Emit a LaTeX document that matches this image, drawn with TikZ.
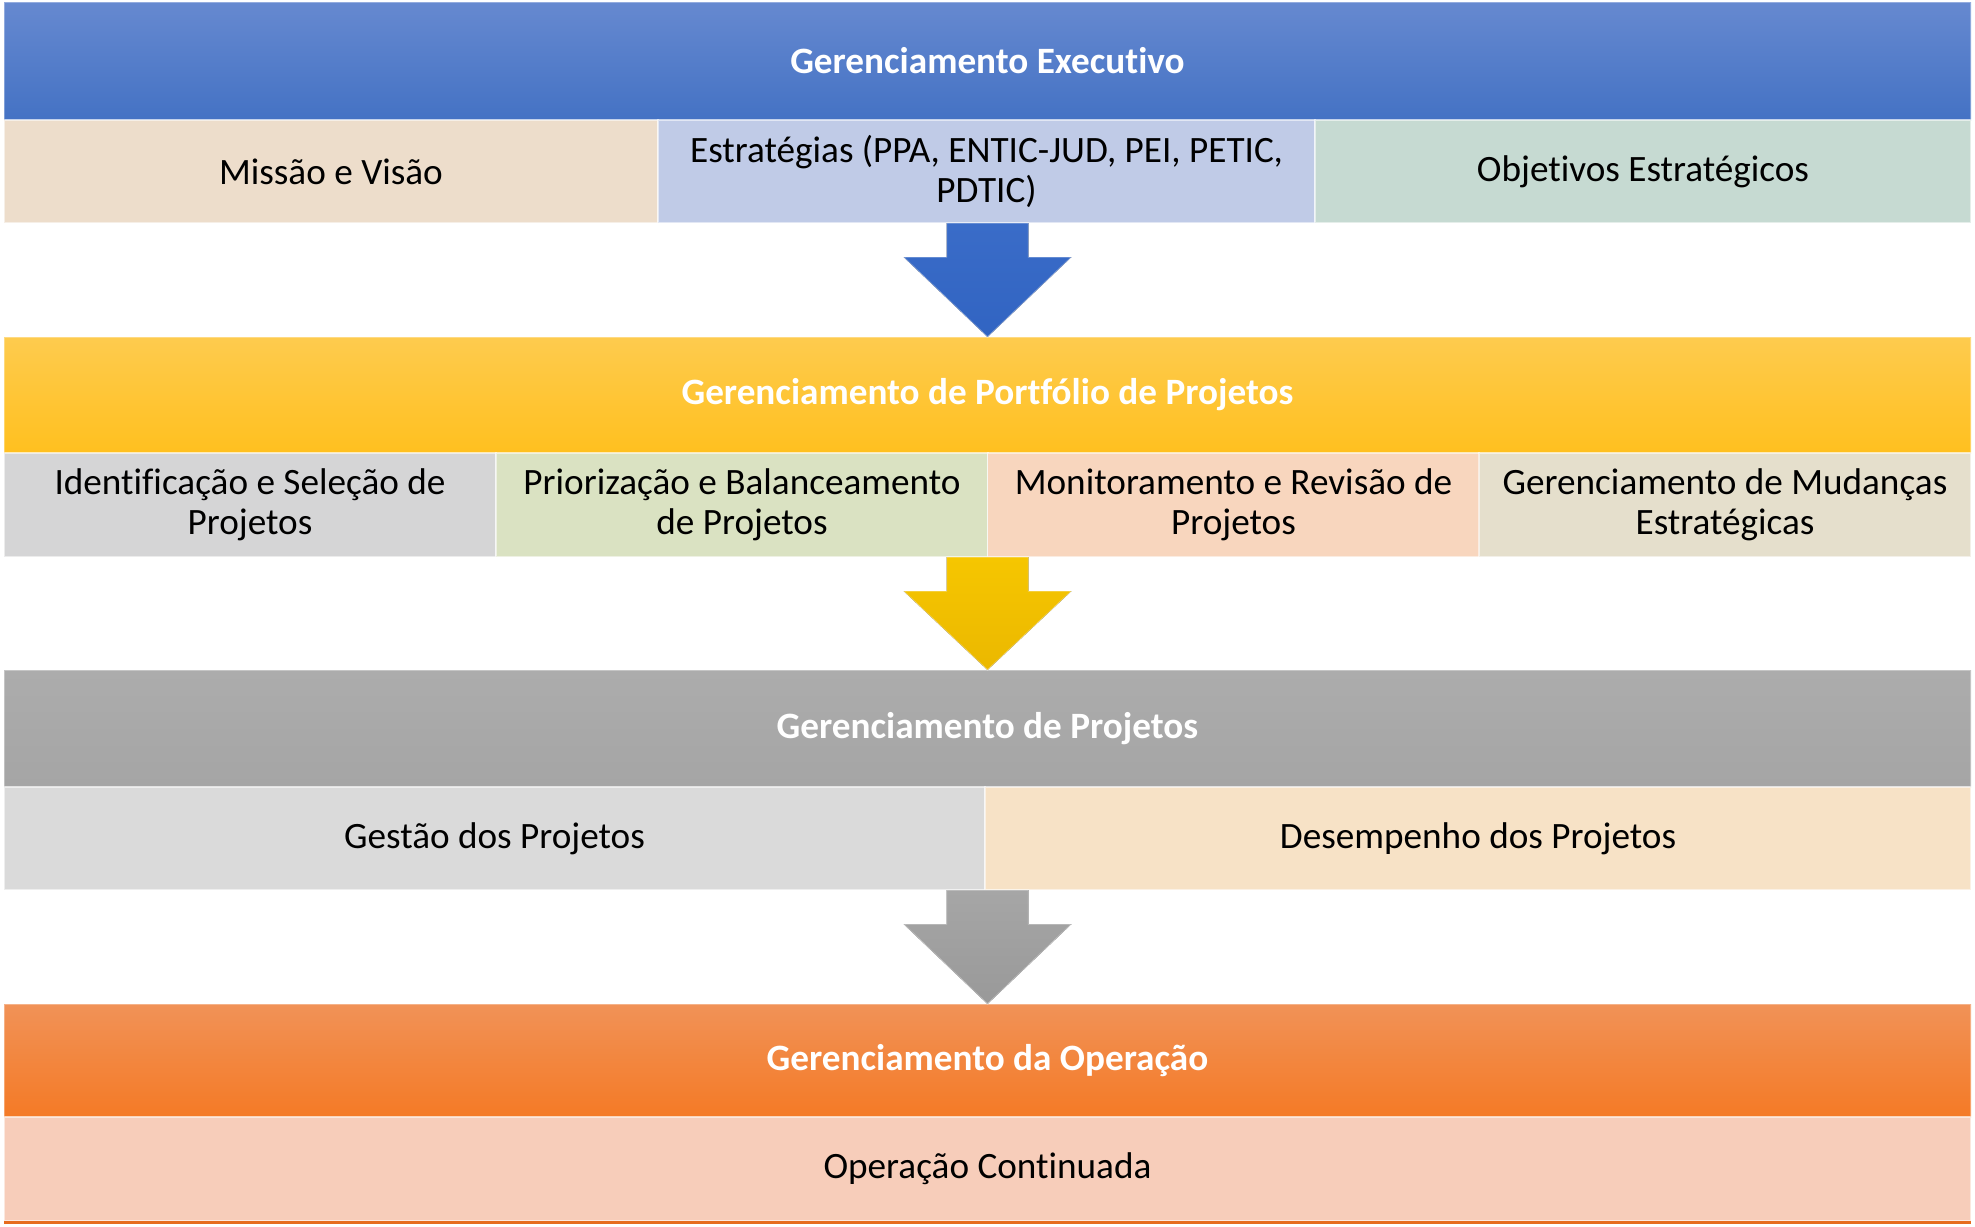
\documentclass[tikz,border=0pt]{standalone}
\usepackage{fontspec}
\setmainfont{Carlito}[Ligatures={NoCommon,NoContextual,NoRare}]
\usetikzlibrary{calc}
\definecolor{blueTop}{HTML}{6689D0}
\definecolor{blueBot}{HTML}{4472C4}
\definecolor{yelTop}{HTML}{FECB4E}
\definecolor{yelBot}{HTML}{FFC01F}
\definecolor{greyTop}{HTML}{ACACAC}
\definecolor{greyBot}{HTML}{A5A5A5}
\definecolor{orTop}{HTML}{F19257}
\definecolor{orBot}{HTML}{F47A26}
\definecolor{cMissao}{HTML}{EDDDCB}
\definecolor{cEstr}{HTML}{C0CBE7}
\definecolor{cObj}{HTML}{C6DAD2}
\definecolor{cIdent}{HTML}{D5D5D6}
\definecolor{cPrior}{HTML}{DAE2C2}
\definecolor{cMonit}{HTML}{F8D6BE}
\definecolor{cMud}{HTML}{E5DFCC}
\definecolor{cGest}{HTML}{DADADA}
\definecolor{cDesemp}{HTML}{F7E2C6}
\definecolor{cOper}{HTML}{F7CDBA}
\definecolor{orLine}{HTML}{E66C1E}
\definecolor{arBlueA}{HTML}{3A6CC8}
\definecolor{arBlueB}{HTML}{3164C2}
\definecolor{arYelA}{HTML}{F6C600}
\definecolor{arYelB}{HTML}{EBB800}
\definecolor{arGreyA}{HTML}{A6A6A6}
\definecolor{arGreyB}{HTML}{999999}
\newcommand{\myblockarrow}[4]{%
  \fill[top color=#3, bottom color=#4, draw=white, draw opacity=0.35, line width=0.6pt]
    let \p1=(#1), \p2=(#2) in
    (\x2-20.5pt,\y1) -- (\x2+20.5pt,\y1) -- (\x2+20.5pt,\y1-17pt) --
    (\x2+42pt,\y1-17pt) -- (\x2,\y2) -- (\x2-42pt,\y1-17pt) --
    (\x2-20.5pt,\y1-17pt) -- cycle;}
\tikzset{
  band/.style={minimum width=983.5pt, inner sep=0pt, outer sep=0pt,
    draw=white, draw opacity=0.3, line width=0.6pt,
    text=white, font=\fontsize{18.6}{20}\selectfont\bfseries},
  cell/.style={inner sep=0pt, outer sep=0pt, align=center,
    draw=white, draw opacity=0.55, line width=0.8pt,
    text=black, font=\fontsize{18.6}{20}\selectfont}
}
\begin{document}
\begin{tikzpicture}[x=0.5pt, y=-0.5pt]
\useasboundingbox (0,0) rectangle (1975,1226);
% level 1
\node[band, minimum height=59pt, top color=blueTop, bottom color=blueBot] (ge) at (987.5,61) {Gerenciamento Executivo};
\node[cell, fill=cMissao, minimum width=327pt, minimum height=51.5pt] (mv) at (331,171.5) {Missão e Visão};
\node[cell, fill=cEstr, minimum width=328.5pt, minimum height=51.5pt] (es) at (986.5,171.5) {Estratégias (PPA, ENTIC-JUD, PEI, PETIC,\\PDTIC)};
\node[cell, fill=cObj, minimum width=328pt, minimum height=51.5pt] (ob) at (1643,171.5) {Objetivos Estratégicos};
% level 2
\node[band, minimum height=58pt, top color=yelTop, bottom color=yelBot] (gp) at (987.5,395) {Gerenciamento de Portfólio de Projetos};
\node[cell, fill=cIdent, minimum width=246pt, minimum height=52pt] (is) at (250,505) {Identificação e Seleção de\\Projetos};
\node[cell, fill=cPrior, minimum width=246pt, minimum height=52pt] (pb) at (742,505) {Priorização e Balanceamento\\de Projetos};
\node[cell, fill=cMonit, minimum width=246pt, minimum height=52pt] (mr) at (1233.5,505) {Monitoramento e Revisão de\\Projetos};
\node[cell, fill=cMud, minimum width=246pt, minimum height=52pt] (gm) at (1725,505) {Gerenciamento de Mudanças\\Estratégicas};
% level 3
\node[band, minimum height=58.5pt, top color=greyTop, bottom color=greyBot] (gpr) at (987.5,728.5) {Gerenciamento de Projetos};
\node[cell, fill=cGest, minimum width=490.5pt, minimum height=51.5pt] (gd) at (494.5,838.5) {Gestão dos Projetos};
\node[cell, fill=cDesemp, minimum width=493pt, minimum height=51.5pt] (dp) at (1478,838.5) {Desempenho dos Projetos};
% level 4
\node[band, minimum height=56.5pt, top color=orTop, bottom color=orBot] (go) at (987.5,1060.5) {Gerenciamento da Operação};
\node[cell, fill=cOper, minimum width=983.5pt, minimum height=52pt] (oc) at (987.5,1169) {Operação Continuada};
\draw[orLine, line width=1.5pt] ([yshift=-0.5pt]oc.south west) -- ([yshift=-0.5pt]oc.south east);
% arrows
\myblockarrow{es.south}{gp.north}{arBlueA}{arBlueB}
\myblockarrow{pb.south east}{gpr.north}{arYelA}{arYelB}
\myblockarrow{gd.south east}{go.north}{arGreyA}{arGreyB}
\end{tikzpicture}
\end{document}
